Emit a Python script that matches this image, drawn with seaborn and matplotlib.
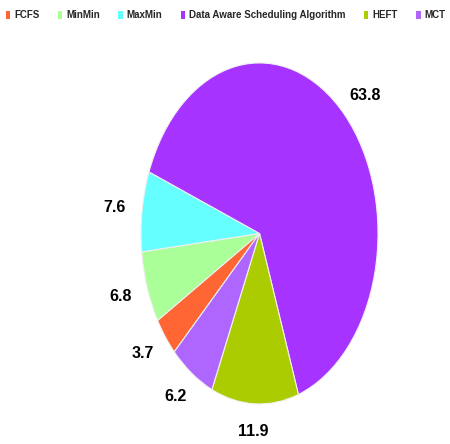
import matplotlib
matplotlib.use("Agg")
import matplotlib.pyplot as plt
import numpy as np
import seaborn as sns

sns.set_theme(style="white")
plt.rcParams['font.family'] = ['Liberation Sans Narrow', 'Liberation Sans', 'DejaVu Sans']

categories = ["FCFS", "MinMin", "MaxMin", "Data Aware Scheduling Algorithm", "HEFT", "MCT"]
values = [3.7, 6.8, 7.6, 63.8, 11.9, 6.2]
colors = ["#FF6633", "#AAFF99", "#66FFFF", "#A633FF", "#AACC00", "#AF66FF"]

fig = plt.figure(figsize=(4.5, 4.44), dpi=100)
ax = fig.add_axes([0, 0, 1, 1])
wedges, texts, autotexts = ax.pie(
    values, colors=colors, startangle=224, counterclock=False,
    autopct=lambda p: f"{p:.1f}", pctdistance=1.22,
    wedgeprops=dict(edgecolor="#F0F0F0", linewidth=0.8),
    textprops=dict(fontsize=11.5, fontweight="bold", color="black"),
)
ax.set_aspect("auto")
px_x, px_y = 118.5, 170.5  # pixels per data unit
ax.set_xlim(-2.19, -2.19 + 450 / px_x)
ax.set_ylim(-1.235, -1.235 + 444 / px_y)
ax.axis("off")

# place value labels at a constant pixel gap outside the elliptical rim
gap = 28
for w, t in zip(wedges, autotexts):
    mid = np.deg2rad((w.theta1 + w.theta2) / 2)
    t.set_position((np.cos(mid) * (1 + gap / px_x), np.sin(mid) * (1 + gap / px_y)))
    t.set_ha("center")
    t.set_va("center")

leg = fig.legend(wedges, categories, loc="upper left", bbox_to_anchor=(0.0, 0.99),
                 ncol=6, frameon=False, handlelength=0.45, handleheight=0.8,
                 handletextpad=0.4, columnspacing=1.9, borderaxespad=0.2,
                 prop=dict(size=7, weight="bold"))
for h in leg.legend_handles:
    h.set_edgecolor("none")

fig.savefig("out.png", dpi=100)
